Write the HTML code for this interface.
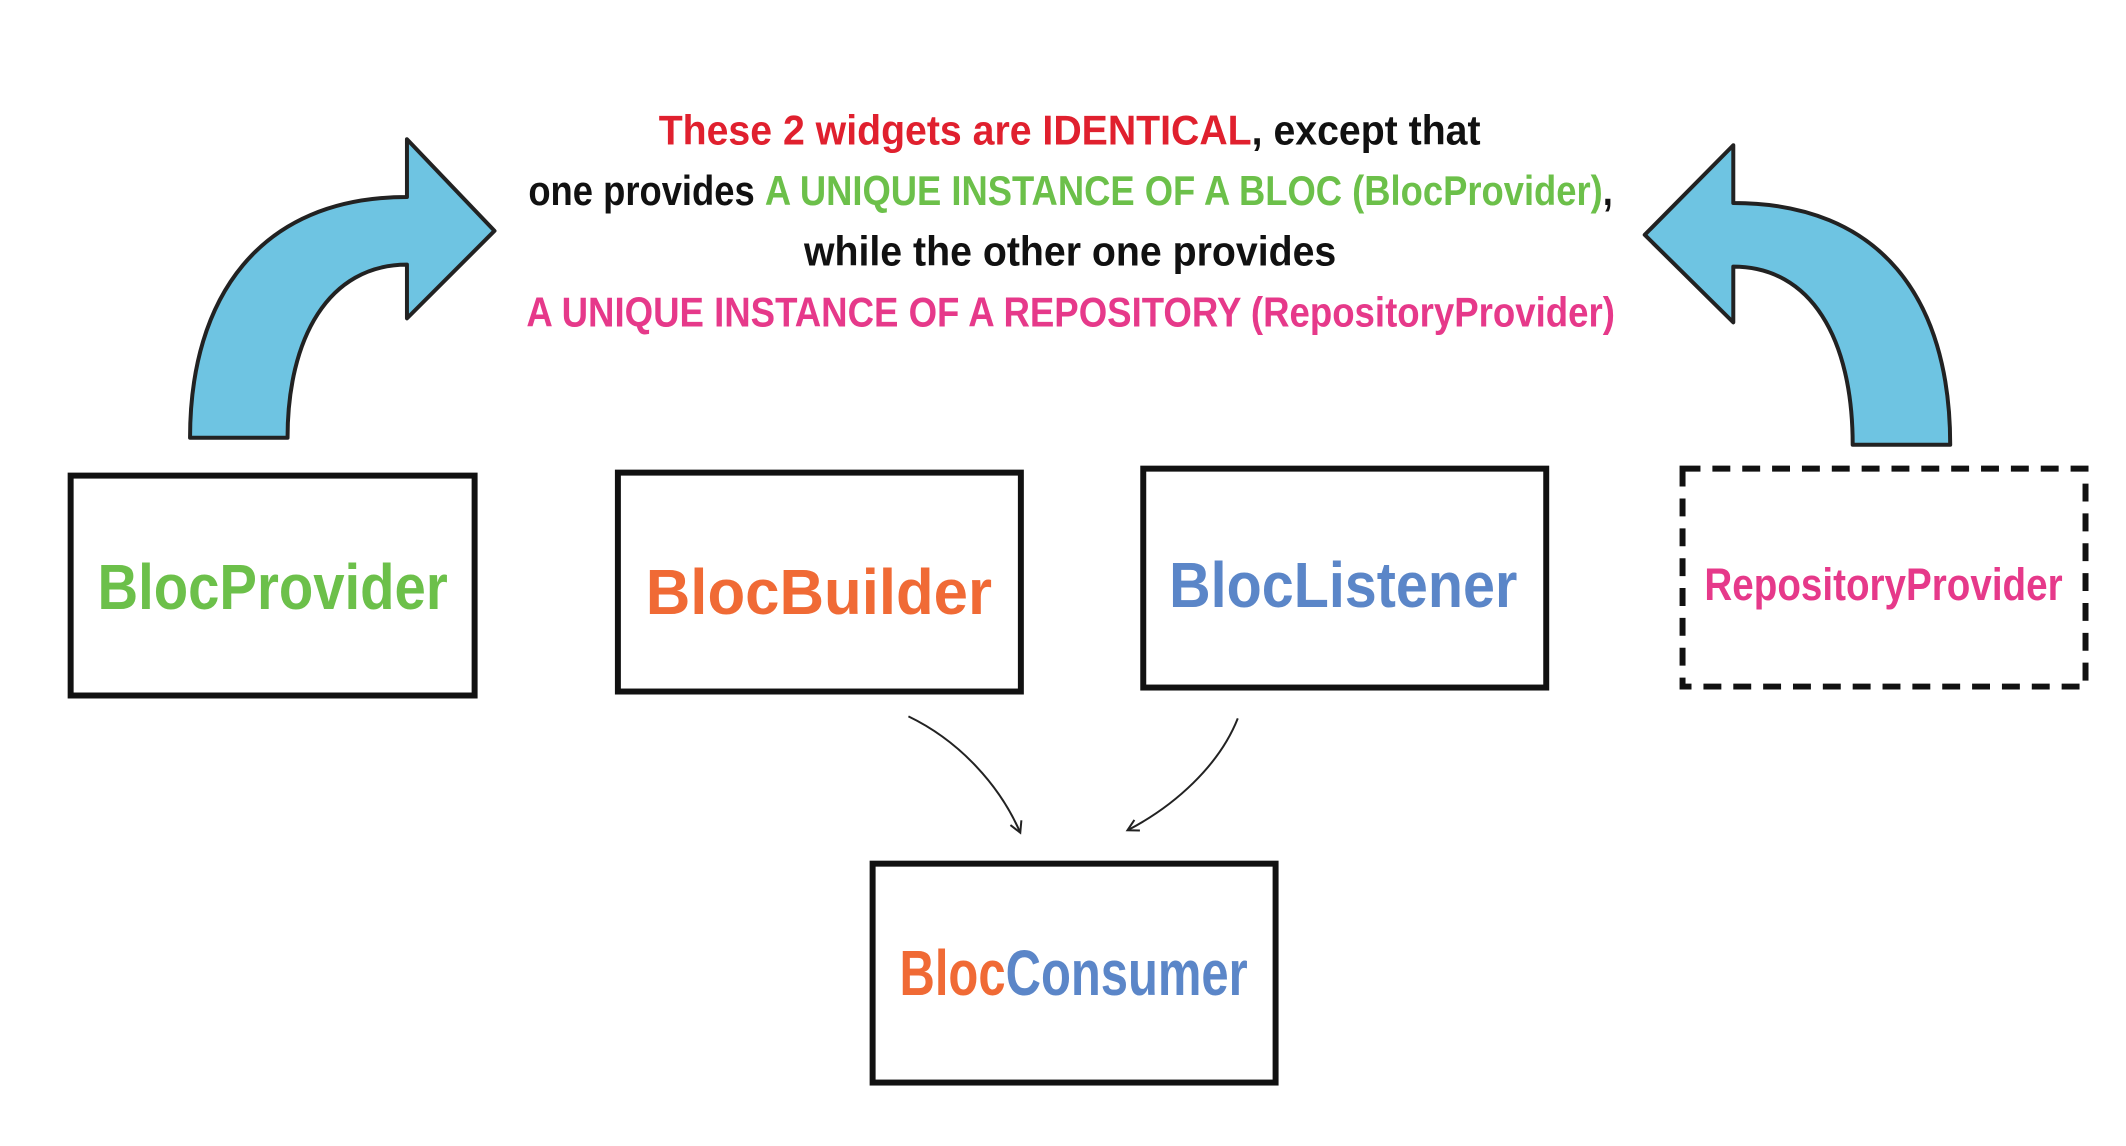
<!DOCTYPE html>
<html><head><meta charset="utf-8"><style>
html,body{margin:0;padding:0;background:#fff;}
svg{display:block;}
text{font-family:"Liberation Sans Narrow","Liberation Sans",sans-serif;font-weight:bold;}
</style></head><body>
<svg width="2126" height="1146" viewBox="0 0 2126 1146" xmlns="http://www.w3.org/2000/svg">
<defs>
<marker id="ah" markerWidth="14" markerHeight="14" refX="11" refY="7" orient="auto" markerUnits="userSpaceOnUse">
<path d="M1,1 L12,7 L1,13" fill="none" stroke="#222" stroke-width="2"/>
</marker>
</defs>
<g transform="scale(0.995)">
<path d="M191,440 C191,300 260,198 409,198 L409,140 L497,232 L409,320 L409,266 C330,266 289,340 289,440 Z" fill="#6ec4e2" stroke="#222" stroke-width="4" stroke-linejoin="round"/>
<path d="M1960,447 C1960,300 1890,204 1742,204 L1742,146 L1653,236 L1742,324 L1742,268 C1820,268 1862,340 1862,447 Z" fill="#6ec4e2" stroke="#222" stroke-width="4" stroke-linejoin="round"/>
<g font-size="42" text-anchor="start">
<text x="662" y="145" textLength="826" lengthAdjust="spacingAndGlyphs"><tspan fill="#e0202e">These 2 widgets are IDENTICAL</tspan><tspan fill="#111">, except that</tspan></text>
<text x="531" y="206" textLength="1090" lengthAdjust="spacingAndGlyphs"><tspan fill="#111">one provides </tspan><tspan fill="#6cc04a">A UNIQUE INSTANCE OF A BLOC (BlocProvider)</tspan><tspan fill="#111">,</tspan></text>
<text x="808" y="267" textLength="535" lengthAdjust="spacingAndGlyphs" fill="#111">while the other one provides</text>
<text x="529" y="328" textLength="1094" lengthAdjust="spacingAndGlyphs" fill="#e6398a">A UNIQUE INSTANCE OF A REPOSITORY (RepositoryProvider)</text>
</g>
<g fill="none" stroke="#111" stroke-width="6">
<rect x="71" y="478" width="406" height="221"/>
<rect x="621" y="475" width="405" height="220"/>
<rect x="1149" y="471" width="405" height="220"/>
<rect x="1691" y="471" width="405" height="219" stroke-dasharray="18,12"/>
<rect x="877" y="868" width="405" height="220"/>
</g>
<g font-size="64" text-anchor="middle">
<text x="274" y="612" fill="#6cc04a" textLength="352" lengthAdjust="spacingAndGlyphs">BlocProvider</text>
<text x="823" y="617" fill="#f06a35" textLength="348" lengthAdjust="spacingAndGlyphs">BlocBuilder</text>
<text x="1350" y="610" fill="#5b86c8" textLength="350" lengthAdjust="spacingAndGlyphs">BlocListener</text>
<text x="1893" y="603" font-size="46" fill="#e6398a" textLength="360" lengthAdjust="spacingAndGlyphs">RepositoryProvider</text>
<text x="1079" y="1000" fill="#f06a35" textLength="350" lengthAdjust="spacingAndGlyphs">Bloc<tspan fill="#5b86c8">Consumer</tspan></text>
</g>
<path d="M913,720 C965,745 1005,790 1025,836" fill="none" stroke="#222" stroke-width="2" marker-end="url(#ah)"/>
<path d="M1244,722 C1225,770 1180,810 1134,834" fill="none" stroke="#222" stroke-width="2" marker-end="url(#ah)"/>
</g>
</svg>
</body></html>
